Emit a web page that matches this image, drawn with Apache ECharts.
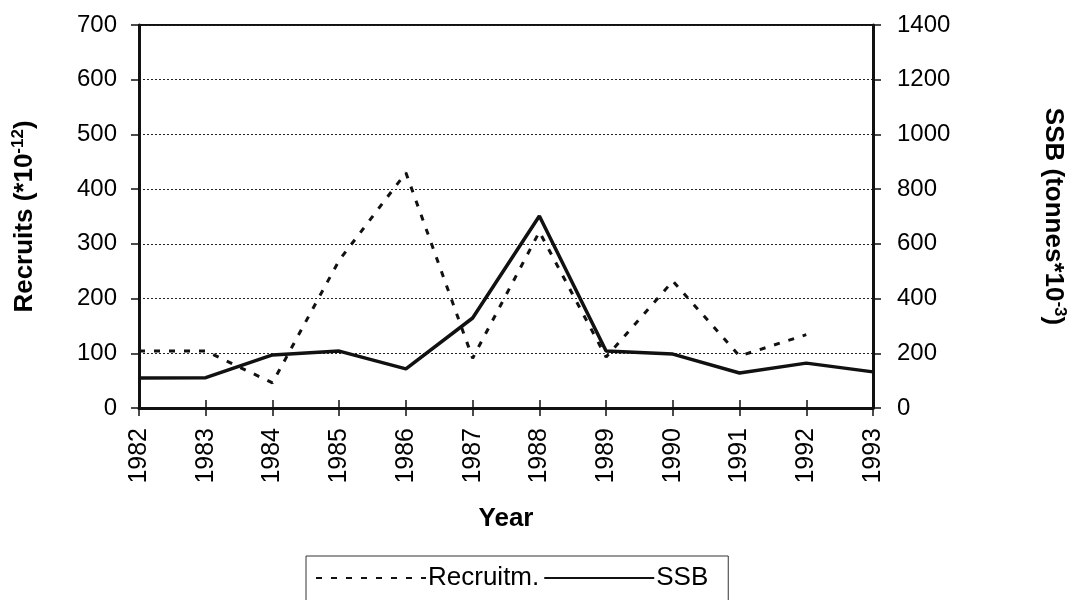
<!DOCTYPE html>
<html><head><meta charset="utf-8">
<script src="https://cdn.jsdelivr.net/npm/echarts@6/dist/echarts.min.js"></script>
<style>html,body{margin:0;padding:0;background:#fff}#c{width:1079px;height:600px}</style>
</head><body><div id="c"></div>
<script>
var years = ['1982','1983','1984','1985','1986','1987','1988','1989','1990','1991','1992','1993'];
var recruitm = [104, 104, 46, 270, 430, 91, 322, 93, 232, 95, 134, null];
var ssb = [110, 111, 194, 208, 143, 329, 702, 208, 197, 128, 164, 132];
var leftTicks = {min: 0, max: 700, interval: 100};
var rightTicks = {min: 0, max: 1400, interval: 200};

var FONT = '"Liberation Sans", Arial, sans-serif';
var chart = echarts.init(document.getElementById('c'));
chart.setOption({
  animation: false,
  backgroundColor: '#fff',
  textStyle: {fontFamily: FONT, color: '#000'},
  grid: {left: 139, right: 206, top: 25, bottom: 192, show: true, borderColor: '#111', borderWidth: 2, backgroundColor: 'transparent'},
  legend: {
    left: 306, top: 556, padding: [9, 20, 14, 9],
    borderColor: '#333', borderWidth: 1, borderRadius: 0,
    itemWidth: 110, itemHeight: 14, itemGap: 4,
    itemStyle: {color: 'rgba(0,0,0,0)', borderColor: 'rgba(0,0,0,0)', borderWidth: 0, opacity: 0},
    textStyle: {fontSize: 26, color: '#000', fontFamily: FONT, padding: [0, 0, 0, -3]},
    data: [{name: 'Recruitm.'}, {name: 'SSB'}]
  },
  xAxis: [{
    type: 'category', data: years, boundaryGap: false, position: 'bottom',
    name: 'Year', nameLocation: 'middle', nameGap: 98,
    nameTextStyle: {fontSize: 26, fontWeight: 'bold', color: '#000', fontFamily: FONT, verticalAlign: 'top'},
    axisLine: {lineStyle: {color: '#111', width: 3}},
    axisTick: {show: true, length: 8, lineStyle: {color: '#111', width: 1.5}},
    axisLabel: {rotate: 90, fontSize: 25, color: '#000', margin: 20, fontFamily: FONT},
    splitLine: {show: false}
  }, {
    type: 'category', data: years, boundaryGap: false, position: 'bottom',
    axisLine: {show: false},
    axisTick: {show: true, inside: true, length: 8, lineStyle: {color: '#111', width: 1.5}},
    axisLabel: {show: false}, splitLine: {show: false}
  }],
  yAxis: [{
    type: 'value', position: 'left', min: leftTicks.min, max: leftTicks.max, interval: leftTicks.interval,
    name: '{t|Recruits (*10}{s|-12}{t|)}', nameLocation: 'middle', nameGap: 99, nameRotate: 90,
    nameTextStyle: {rich: {
      t: {fontSize: 26, fontWeight: 'bold', color: '#000', fontFamily: FONT},
      s: {fontSize: 17, fontWeight: 'bold', color: '#000', fontFamily: FONT, verticalAlign: 'top', padding: [0, 0, 13, 0]}
    }},
    axisLine: {show: true, lineStyle: {color: '#111', width: 3}},
    axisTick: {show: true, length: 8, lineStyle: {color: '#111', width: 1.5}},
    axisLabel: {fontSize: 24, color: '#000', margin: 22, fontFamily: FONT},
    splitLine: {show: true, lineStyle: {color: '#222', width: 1, type: [2, 2]}}
  }, {
    type: 'value', position: 'right', min: rightTicks.min, max: rightTicks.max, interval: rightTicks.interval,
    name: '{t|SSB (tonnes*10}{s|-3}{t|)}', nameLocation: 'middle', nameGap: 165, nameRotate: -90,
    nameTextStyle: {rich: {
      t: {fontSize: 26, fontWeight: 'bold', color: '#000', fontFamily: FONT},
      s: {fontSize: 17, fontWeight: 'bold', color: '#000', fontFamily: FONT, verticalAlign: 'top', padding: [0, 0, 13, 0]}
    }},
    axisLine: {show: true, lineStyle: {color: '#111', width: 3}},
    axisTick: {show: true, length: 8, lineStyle: {color: '#111', width: 1.5}},
    axisLabel: {fontSize: 24, color: '#000', margin: 24, fontFamily: FONT, formatter: function (v) { return String(v); }},
    splitLine: {show: false}
  }],
  series: [{
    name: 'Recruitm.', type: 'line', data: recruitm, yAxisIndex: 0, xAxisIndex: 0,
    symbol: 'none', connectNulls: false,
    lineStyle: {color: '#111', width: 3, type: [6, 9]},
    itemStyle: {color: '#111'}
  }, {
    name: 'SSB', type: 'line', data: ssb, yAxisIndex: 1, xAxisIndex: 0,
    symbol: 'none',
    lineStyle: {color: '#111', width: 3.5},
    itemStyle: {color: '#111'}
  }]
});
</script></body></html>
